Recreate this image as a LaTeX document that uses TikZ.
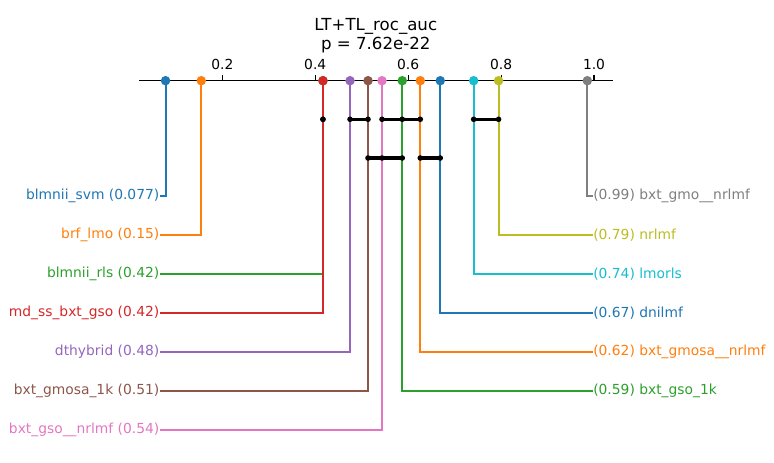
\documentclass[tikz,border=0pt]{standalone}
\usepackage{fontspec}
\setmainfont{DejaVu Sans}
\definecolor{tbleu}{HTML}{1F77B4}
\definecolor{torange}{HTML}{FF7F0E}
\definecolor{tvert}{HTML}{2CA02C}
\definecolor{trouge}{HTML}{D62728}
\definecolor{tviolet}{HTML}{9467BD}
\definecolor{tbrun}{HTML}{8C564B}
\definecolor{trose}{HTML}{E377C2}
\definecolor{tgris}{HTML}{7F7F7F}
\definecolor{tolive}{HTML}{BCBD22}
\definecolor{tcyan}{HTML}{17BECF}

\begin{document}
\begin{tikzpicture}[x=0.01in,y=-0.01in,
	lab/.style={font=\fontsize{10}{12}\selectfont, inner sep=0pt},
	pt/.style={circle, inner sep=0pt, minimum size=0.095in},
	lien/.style={line width=1.5pt},
	barre/.style={line width=2.2pt, black}]
	\useasboundingbox (0,0) rectangle (774,462);

	% titre
	\node[align=center, font=\fontsize{12}{13.7}\selectfont] (titre) at (375.8,35.5) {LT+TL\_roc\_auc\\p = 7.62e-22};

	% axe
	\draw[line width=0.8pt] (139,80.7) -- (613,80.7);
	\foreach \t in {0.2,0.4,0.6,0.8,1.0} {
		\pgfmathsetmacro{\px}{129.4+464.6*\t}
		\draw[line width=0.8pt] (\px,80.7) -- (\px,75);
		\node[lab] (t\t) at (\px,64) {\t};
	}

	% rangs des barres
	\coordinate (rang1) at (0,119.3);
	\coordinate (rang2) at (0,158);

	% gauche
	\foreach \i/\v/\c/\t in {1/0.0778/tbleu/{blmnii\_svm (0.077)},
		2/0.1547/torange/{brf\_lmo (0.15)},
		3/0.4166/tvert/{blmnii\_rls (0.42)},
		4/0.4166/trouge/{md\_ss\_bxt\_gso (0.42)},
		5/0.4749/tviolet/{dthybrid (0.48)},
		6/0.5136/tbrun/{bxt\_gmosa\_1k (0.51)},
		7/0.5437/trose/{bxt\_gso\_\_nrlmf (0.54)}} {
		\pgfmathsetmacro{\px}{129.4+464.6*\v}
		\pgfmathsetmacro{\py}{195.7+39*(\i-1)}
		\node[lab, text=\c, anchor=east] (l\i) at (159.6,\py) {\t};
		\node[pt, fill=\c] (d\i) at (\px,80.7) {};
		\draw[lien, \c] (d\i.center) |- (l\i.east);
	}

	% droite
	\foreach \i/\v/\c/\r/\t in {8/0.5873/tvert/6/{(0.59) bxt\_gso\_1k},
		9/0.6261/torange/5/{(0.62) bxt\_gmosa\_\_nrlmf},
		10/0.6691/tbleu/4/{(0.67) dnilmf},
		11/0.7410/tcyan/3/{(0.74) lmorls},
		12/0.7946/tolive/2/{(0.79) nrlmf},
		13/0.9856/tgris/1/{(0.99) bxt\_gmo\_\_nrlmf}} {
		\pgfmathsetmacro{\px}{129.4+464.6*\v}
		\pgfmathsetmacro{\py}{195.7+39*(\r-1)}
		\node[lab, text=\c, anchor=west] (l\i) at (593,\py) {\t};
		\node[pt, fill=\c] (d\i) at (\px,80.7) {};
		\draw[lien, \c] (d\i.center) |- (l\i.west);
	}

	% barres
	\foreach \a/\b/\r in {3/4/1, 5/6/1, 7/9/1, 11/12/1, 6/8/2, 9/10/2} {
		\draw[barre] (d\a |- rang\r) -- (d\b |- rang\r);
		\foreach \k in {\a,...,\b}
			\fill (d\k |- rang\r) circle[radius=0.028in];
	}
\end{tikzpicture}
\end{document}
